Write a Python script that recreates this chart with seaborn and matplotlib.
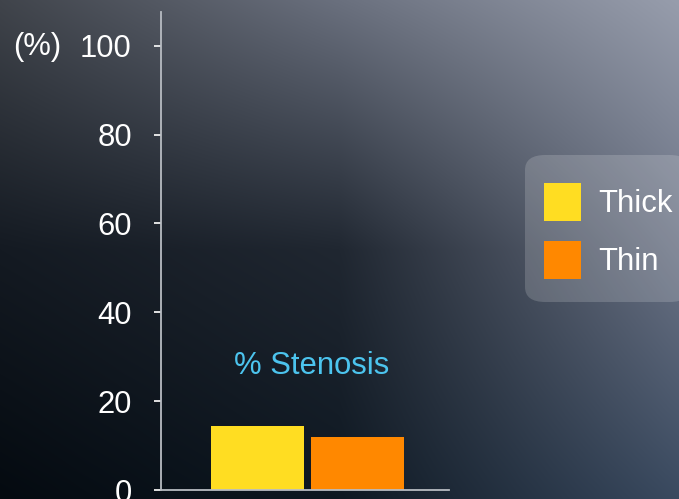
import numpy as np
import pandas as pd
import matplotlib
matplotlib.use("Agg")
import matplotlib.pyplot as plt
from matplotlib.patches import FancyBboxPatch
import seaborn as sns

# Data
categories = ["Thick", "Thin"]
stenosis_pct = [14.5, 12]
bar_colors = ["#FFDD22", "#FF8800"]
y_ticks = [0, 20, 40, 60, 80, 100]

df = pd.DataFrame({"group": categories, "value": stenosis_pct})

sns.set_theme(style="white")
plt.rcParams["font.family"] = ["Liberation Sans", "DejaVu Sans"]
FS = 22.3

W, H = 679, 499
fig = plt.figure(figsize=(W / 100, H / 100), dpi=100)

# Dark slate backdrop: lighter toward the upper right, near-black at lower left
ctrl = np.array([
    [[0x40, 0x44, 0x4b], [0x6a, 0x70, 0x7e], [0x97, 0x9d, 0xac]],
    [[0x14, 0x1a, 0x22], [0x20, 0x27, 0x31], [0x6a, 0x72, 0x84]],
    [[0x04, 0x0a, 0x10], [0x0e, 0x18, 0x22], [0x3a, 0x4a, 0x60]],
], dtype=float) / 255.0
ys = np.linspace(0, 2, H)
xs = np.linspace(0, 2, W)
rows = np.empty((3, W, 3))
for r in range(3):
    for c in range(3):
        rows[r, :, c] = np.interp(xs, [0, 1, 2], ctrl[r, :, c])
bg = np.empty((H, W, 3))
for c in range(3):
    for j in range(W):
        bg[:, j, c] = np.interp(ys, [0, 1, 2], rows[:, j, c])
bg_ax = fig.add_axes([0, 0, 1, 1], zorder=-10)
bg_ax.imshow(bg, aspect="auto", extent=[0, 1, 0, 1], interpolation="bilinear")
bg_ax.axis("off")
fig.patch.set_facecolor("#1c232d")

# Plot area
ax = fig.add_axes([161 / W, 1 - 490 / H, 288 / W, 478 / H])
ax.patch.set_alpha(0)
sns.barplot(data=df, x="group", y="value", hue="group", palette=bar_colors,
            width=0.93, ax=ax, legend=True, saturation=1, linewidth=0)

ax.set_xlim(-0.965, 1.915)
ax.set_ylim(0, 107.6)
ax.set_yticks(y_ticks)
ax.set_yticklabels([str(t) for t in y_ticks])
ax.set_xticks([])
ax.set_xlabel("")
ax.set_ylabel("")

axis_color = "#b8bcc2"
for side in ["top", "right"]:
    ax.spines[side].set_visible(False)
for side in ["left", "bottom"]:
    ax.spines[side].set_color(axis_color)
    ax.spines[side].set_linewidth(1.3)
ax.tick_params(axis="y", direction="out", length=5, width=1.3, color="#f0f0f0",
               labelcolor="white", labelsize=FS, pad=16, left=True)

# Units label beside the top tick
fig.text(13 / W, 1 - 47 / H, "(%)", color="white", fontsize=FS,
         ha="left", va="center")

# Series caption above the bars
ax.text(0.54, 28, "% Stenosis", color="#4CC4EE", fontsize=FS,
        ha="center", va="center")

# Rounded translucent panel behind the legend (drawn under the plot axes)
panel = FancyBboxPatch((525 / W, 1 - 302 / H), (690 - 525) / W, 147 / H,
                       boxstyle="round,pad=0,rounding_size=0.03",
                       transform=fig.transFigure, facecolor="white",
                       alpha=0.17, edgecolor="none", zorder=-5)
fig.patches.append(panel)

leg = ax.legend(loc="upper left", bbox_to_anchor=(544 / W, 1 - 183 / H),
                bbox_transform=fig.transFigure, fontsize=FS, frameon=False,
                handlelength=1.21, handleheight=1.49,
                handletextpad=0.55, labelspacing=0.67, borderpad=0,
                borderaxespad=0)
for t in leg.get_texts():
    t.set_color("white")

fig.savefig("out.png", dpi=100, facecolor=fig.get_facecolor())
